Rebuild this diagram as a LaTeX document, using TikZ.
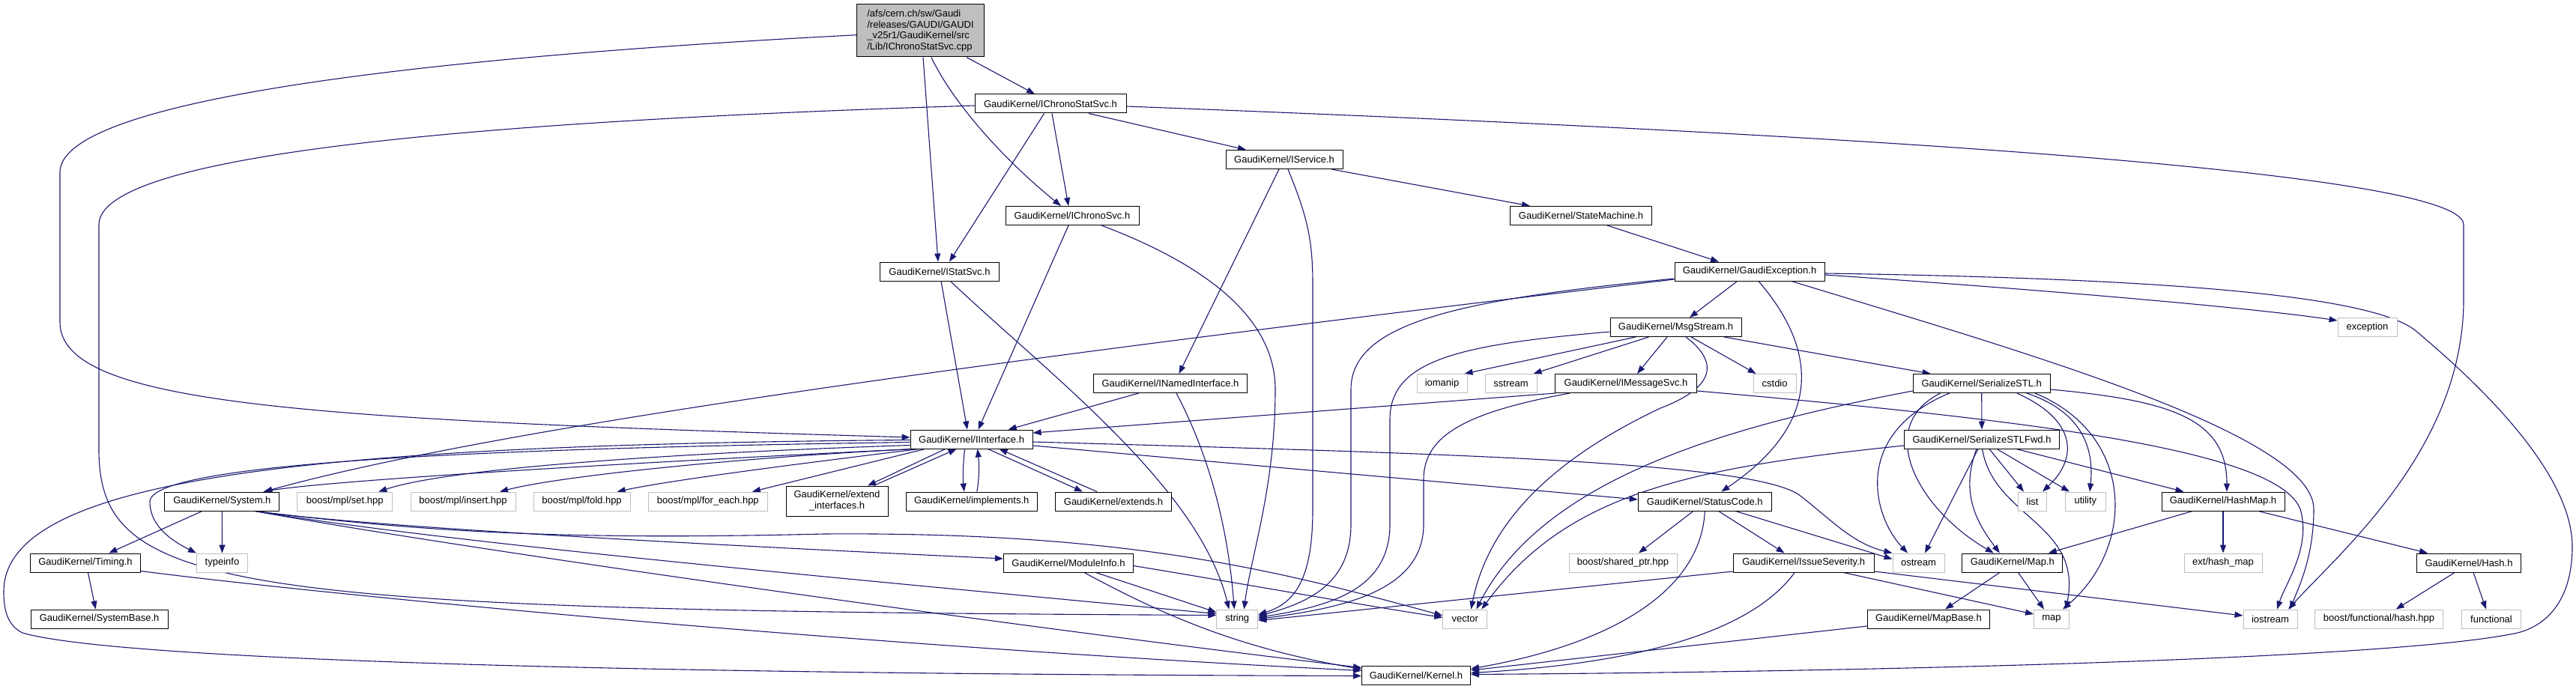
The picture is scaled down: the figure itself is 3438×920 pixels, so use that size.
\documentclass[tikz,border=0pt]{standalone}
\usepackage{fontspec}
\setmainfont{Liberation Sans}
\usetikzlibrary{arrows.meta}
\pgfdeclarelayer{background}
\pgfsetlayers{background,main}
\definecolor{edgec}{HTML}{191970}
\definecolor{extc}{HTML}{BFBFBF}
\definecolor{rootfill}{HTML}{BFBFBF}
\newcommand\gklabel{\fontsize{13}{14.7}\selectfont}
\begin{document}
\begin{tikzpicture}[x=1pt,y=-1pt,
  e/.style={draw=edgec, line width=1.1pt, -{Triangle[length=11pt,width=8pt]}},
  box/.style={fill=white, line width=1pt, minimum height=25pt, inner sep=0pt, font=\gklabel, anchor=center},
  doc/.style={box, draw=black},
  ext/.style={box, draw=extc},
  rootn/.style={box, draw=black, fill=rootfill, minimum height=70pt, align=left}]
\useasboundingbox (0,0) rectangle (3438,920);
% nodes
\node[rootn, minimum width=170] (root) at (1228.5,41) {/afs/cern.ch/sw/Gaudi\\/releases/GAUDI/GAUDI\\\_v25r1/GaudiKernel/src\\/Lib/IChronoStatSvc.cpp};
\node[doc, minimum width=202] (icss) at (1402,138.5) {GaudiKernel/IChronoStatSvc.h};
\node[doc, minimum width=178] (ics) at (1431,288) {GaudiKernel/IChronoSvc.h};
\node[doc, minimum width=159] (iss) at (1254,362.5) {GaudiKernel/IStatSvc.h};
\node[doc, minimum width=156] (isvc) at (1714,213) {GaudiKernel/IService.h};
\node[doc, minimum width=189] (sm) at (2110,288) {GaudiKernel/StateMachine.h};
\node[doc, minimum width=200] (ge) at (2335,362.5) {GaudiKernel/GaudiException.h};
\node[doc, minimum width=175] (ms) at (2236.5,437) {GaudiKernel/MsgStream.h};
\node[ext, minimum width=79] (exc) at (3159.5,437) {exception};
\node[doc, minimum width=205] (inamed) at (1562,512) {GaudiKernel/INamedInterface.h};
\node[ext, minimum width=67] (iom) at (1924.5,512) {iomanip};
\node[ext, minimum width=69] (sst) at (2016.5,512) {sstream};
\node[doc, minimum width=189] (imsg) at (2170,512) {GaudiKernel/IMessageSvc.h};
\node[ext, minimum width=57] (cstdio) at (2368.6,512) {cstdio};
\node[doc, minimum width=183] (ser) at (2644.7,512) {GaudiKernel/SerializeSTL.h};
\node[doc, minimum width=163] (ii) at (1296.6,586.5) {GaudiKernel/IInterface.h};
\node[doc, minimum width=207] (serfwd) at (2645,586.5) {GaudiKernel/SerializeSTLFwd.h};
\node[doc, minimum width=153] (sys) at (296.4,669.5) {GaudiKernel/System.h};
\node[ext, minimum width=127] (set) at (460.3,669.5) {boost/mpl/set.hpp};
\node[ext, minimum width=140] (ins) at (618,669.5) {boost/mpl/insert.hpp};
\node[ext, minimum width=129] (fold) at (776.6,669.5) {boost/mpl/fold.hpp};
\node[ext, minimum width=159] (fe) at (944.8,669.5) {boost/mpl/for\_each.hpp};
\node[doc, minimum width=136, minimum height=40, align=center, font=\fontsize{13}{15}\selectfont] (extif) at (1117,669) {GaudiKernel/extend\\\_interfaces.h};
\node[doc, minimum width=175] (impl) at (1296.8,669.5) {GaudiKernel/implements.h};
\node[doc, minimum width=155] (extends) at (1486,669.5) {GaudiKernel/extends.h};
\node[doc, minimum width=178] (sc) at (2275.3,669.5) {GaudiKernel/StatusCode.h};
\node[ext, minimum width=38] (list) at (2712.6,669.5) {list};
\node[ext, minimum width=54] (util) at (2783.4,669.5) {utility};
\node[doc, minimum width=164] (hm) at (2967,669.5) {GaudiKernel/HashMap.h};
\node[doc, minimum width=147] (timing) at (114,751.5) {GaudiKernel/Timing.h};
\node[ext, minimum width=68] (typeinfo) at (296.5,751.5) {typeinfo};
\node[doc, minimum width=173] (mod) at (1426,751.5) {GaudiKernel/ModuleInfo.h};
\node[ext, minimum width=144] (shp) at (2166,751.5) {boost/shared\_ptr.hpp};
\node[doc, minimum width=188] (is) at (2407.2,751.5) {GaudiKernel/IssueSeverity.h};
\node[ext, minimum width=69] (ost) at (2560.5,751.5) {ostream};
\node[doc, minimum width=134] (maph) at (2685.8,751.5) {GaudiKernel/Map.h};
\node[ext, minimum width=104] (ehm) at (2967,751.5) {ext/hash\_map};
\node[doc, minimum width=138.5] (hash) at (3295,751.5) {GaudiKernel/Hash.h};
\node[doc, minimum width=183] (sb) at (132.6,826.5) {GaudiKernel/SystemBase.h};
\node[ext, minimum width=55] (str) at (1651.3,826.5) {string};
\node[ext, minimum width=59] (vec) at (1955.3,826.5) {vector};
\node[doc, minimum width=163] (mb) at (2574,826.5) {GaudiKernel/MapBase.h};
\node[ext, minimum width=47] (map) at (2738,826.5) {map};
\node[ext, minimum width=72] (ios) at (3030,826.5) {iostream};
\node[ext, minimum width=171] (bfh) at (3175,826.5) {boost/functional/hash.hpp};
\node[ext, minimum width=79.5] (func) at (3325,826.5) {functional};
\node[doc, minimum width=145] (kernel) at (1890,901.5) {GaudiKernel/Kernel.h};
\begin{pgfonlayer}{background}
% edges: root
\draw[e] ([xshift=61.5]root.south) -- ([xshift=-21]icss.north);
\draw[e] ([xshift=14.5]root.south) .. controls (1268,130) and (1330,205) .. ([xshift=-15]ics.north);
\draw[e] ([xshift=3.5]root.south) -- ([xshift=-2]iss.north);
\draw[e] ([yshift=-5.7]root.west) .. controls (500,80) and (80,140) .. (80,230) -- (80,430) .. controls (80,540) and (400,560) .. ([yshift=2.5]ii.west);
% IChronoStatSvc.h
\draw[e] ([xshift=-8.4]icss.south) -- ([xshift=13]iss.north);
\draw[e] ([xshift=2]icss.south) -- ([xshift=-5]ics.north);
\draw[e] ([xshift=51]icss.south) -- ([xshift=-51]isvc.north);
\draw[e] ([yshift=-2.5]icss.west) .. controls (700,160) and (132,200) .. (132,300) -- (132,600) .. controls (132,790) and (300,815) .. ([yshift=5]str.west);
\draw[e] ([yshift=-3.5]icss.east) .. controls (2500,180) and (3288,230) .. (3288,300) -- (3288,400) .. controls (3288,600) and (3120,740) .. ([xshift=24]ios.north);
% IChronoSvc.h
\draw[e] ([xshift=-5]ics.south) -- ([xshift=9]ii.north);
\draw[e] ([xshift=39]ics.south) .. controls (1600,350) and (1702,420) .. (1702,520) .. controls (1702,650) and (1670,740) .. ([xshift=9]str.north);
% IStatSvc.h
\draw[e] ([xshift=2]iss.south) -- ([xshift=-5.6]ii.north);
\draw[e] ([xshift=14.5]iss.south) .. controls (1400,500) and (1600,650) .. ([xshift=-11]str.north);
% IService.h
\draw[e] ([xshift=-7]isvc.south) -- ([xshift=11.5]inamed.north);
\draw[e] ([xshift=5]isvc.south) .. controls (1745,290) and (1752,320) .. (1752,380) -- (1752,680) .. controls (1752,770) and (1730,805) .. ([yshift=6]str.east);
\draw[e] ([xshift=63]isvc.south) -- ([xshift=-68]sm.north);
% StateMachine.h
\draw[e] ([xshift=35]sm.south) -- ([xshift=-41]ge.north);
% GaudiException.h
\draw[e] ([xshift=-16.5]ge.south) -- ([xshift=18.5]ms.north);
\draw[e] ([yshift=-9.5]ge.west) .. controls (1950,400) and (1803,430) .. (1803,520) -- (1803,700) .. controls (1803,780) and (1745,805) .. ([yshift=4]str.east);
\draw[e] ([yshift=-10.5]ge.west) .. controls (1500,460) and (700,560) .. ([xshift=56]sys.north);
\draw[e] ([xshift=12]ge.south) .. controls (2420,460) and (2440,560) .. ([xshift=22]sc.north);
\draw[e] ([xshift=56]ge.south) .. controls (2700,470) and (3088,580) .. (3088,680) .. controls (3088,740) and (3070,780) .. ([xshift=26]ios.north);
\draw[e] ([yshift=-4.5]ge.east) .. controls (2700,385) and (3000,410) .. ([yshift=9]exc.west);
\draw[e] ([yshift=-2.5]ge.east) .. controls (2900,372) and (3160,395) .. (3222,440) .. controls (3330,530) and (3433,640) .. (3433,730) .. controls (3433,800) and (3400,835) .. (3360,845) .. controls (3200,880) and (2500,897) .. ([yshift=1]kernel.east);
% MsgStream.h
\draw[e] ([xshift=-53.5]ms.south) -- ([xshift=30]iom.north);
\draw[e] ([xshift=-36]ms.south) -- ([xshift=30]sst.north);
\draw[e] ([xshift=-11.5]ms.south) -- ([xshift=15]imsg.north);
\draw[e] ([xshift=13.5]ms.south) .. controls (2290,480) and (2295,515) .. (2216,545) .. controls (2100,600) and (1990,680) .. ([xshift=8]vec.north);
\draw[e] ([xshift=20.5]ms.south) -- ([xshift=-25]cstdio.north);
\draw[e] ([xshift=64.5]ms.south) -- ([xshift=-68]ser.north);
\draw[e] ([yshift=-6]ms.west) .. controls (1950,460) and (1855,480) .. (1855,560) -- (1855,700) .. controls (1855,790) and (1770,810) .. ([yshift=2]str.east);
% IMessageSvc.h
\draw[e] ([xshift=-94]imsg.south) -- ([yshift=8.5]ii.east);
\draw[e] ([xshift=-75]imsg.south) .. controls (1960,550) and (1900,580) .. (1900,640) -- (1900,700) .. controls (1900,790) and (1790,812) .. ([yshift=0]str.east);
\draw[e] ([yshift=-10]imsg.east) .. controls (2700,560) and (3040,600) .. (3070,680) .. controls (3085,730) and (3050,780) .. ([xshift=9]ios.north);
% INamedInterface.h
\draw[e] ([xshift=-42]inamed.south) -- ([xshift=49]ii.north);
\draw[e] ([xshift=8]inamed.south) .. controls (1620,620) and (1640,720) .. ([xshift=-4]str.north);
% IInterface.h
\draw[e] ([xshift=-78]ii.south) .. controls (900,615) and (450,640) .. ([xshift=55]sys.north);
\draw[e] ([yshift=-4]ii.west) .. controls (700,598) and (200,615) .. (200,670) .. controls (200,700) and (225,720) .. (typeinfo.north west);
\draw[e] ([yshift=-1]ii.west) .. controls (400,594) and (5,640) .. (5,790) .. controls (5,815) and (10,835) .. (30,845) .. controls (150,880) and (800,900) .. ([yshift=-1]kernel.west);
\draw[e] ([yshift=-8]ii.west) .. controls (900,605) and (600,625) .. ([xshift=45]set.north);
\draw[e] ([xshift=-76]ii.south) .. controls (1000,610) and (750,635) .. ([xshift=49]ins.north);
\draw[e] ([xshift=-70]ii.south) .. controls (1100,615) and (900,640) .. ([xshift=47]fold.north);
\draw[e] ([xshift=-62]ii.south) -- ([xshift=59]fe.north);
\draw[e] ([xshift=-35]ii.south) -- ([xshift=41]extif.north);
\draw[e] ([xshift=49]extif.north) -- ([xshift=-20]ii.south);
\draw[e] ([xshift=-9]ii.south) .. controls (1285,620) and (1285,640) .. ([xshift=-10]impl.north);
\draw[e] ([xshift=7]impl.north) .. controls (1307,640) and (1307,620) .. ([xshift=8]ii.south);
\draw[e] ([xshift=22]ii.south) -- ([xshift=-41]extends.north);
\draw[e] ([xshift=-22]extends.north) -- ([xshift=37]ii.south);
\draw[e] ([yshift=-8.5]ii.east) -- ([yshift=2.5]sc.west);
\draw[e] ([yshift=-3.5]ii.east) .. controls (1900,605) and (2330,615) .. (2400,660) .. controls (2440,690) and (2470,725) .. (ost.north west);
% System.h
\draw[e] ([xshift=-26.6]sys.south) -- ([xshift=31.4]timing.north);
\draw[e] (sys.south) -- (typeinfo.north);
\draw[e] ([xshift=44]sys.south) .. controls (600,715) and (800,720) .. (1100,713) .. controls (1500,710) and (1700,760) .. ([yshift=4.5]vec.west);
\draw[e] ([xshift=44]sys.south) .. controls (500,705) and (1000,730) .. ([yshift=5.5]mod.west);
\draw[e] ([xshift=44]sys.south) .. controls (600,725) and (1100,770) .. ([yshift=7]str.west);
\draw[e] ([xshift=44]sys.south) .. controls (600,730) and (1300,830) .. ([yshift=10]kernel.west);
% Timing.h
\draw[e] ([xshift=3.5]timing.south) -- ([xshift=-5]sb.north);
\draw[e] ([yshift=-11]timing.east) .. controls (400,790) and (1100,860) .. ([yshift=6]kernel.west);
% ModuleInfo.h
\draw[e] ([xshift=36.5]mod.south) -- ([yshift=9]str.west);
\draw[e] ([yshift=-4]mod.east) .. controls (1650,778) and (1800,805) .. ([yshift=2]vec.west);
\draw[e] ([xshift=21]mod.south) .. controls (1550,820) and (1650,865) .. ([yshift=8]kernel.west);
% StatusCode.h
\draw[e] ([xshift=-15.5]sc.south) -- ([xshift=21]shp.north);
\draw[e] (sc.south) .. controls (2270,790) and (2150,860) .. ([yshift=8.5]kernel.east);
\draw[e] ([xshift=18.3]sc.south) -- ([xshift=-25.6]is.north);
\draw[e] ([xshift=41]sc.south) -- ([yshift=5]ost.west);
% IssueSeverity.h
\draw[e] ([yshift=-11.5]is.west) -- ([yshift=-2]str.east);
\draw[e] ([xshift=-12]is.south) .. controls (2340,840) and (2200,885) .. ([yshift=3]kernel.east);
\draw[e] ([xshift=53]is.south) -- ([yshift=6.5]map.west);
\draw[e] ([yshift=-11.5]is.east) -- ([yshift=4.5]ios.west);
% SerializeSTL.h
\draw[e] (ser.south) -- (serfwd.north);
\draw[e] ([xshift=-43]ser.south) .. controls (2470,580) and (2500,690) .. ([xshift=-14.5]ost.north);
\draw[e] ([xshift=-55]ser.south) .. controls (2500,570) and (2560,680) .. ([xshift=-25]maph.north);
\draw[e] ([xshift=47]ser.south) .. controls (2770,560) and (2775,610) .. ([xshift=13.4]list.north);
\draw[e] ([xshift=60]ser.south) .. controls (2780,550) and (2795,600) .. ([xshift=5.6]util.north);
\draw[e] ([xshift=71]ser.south) .. controls (2850,580) and (2850,730) .. ([xshift=15]map.north);
\draw[e] ([yshift=-8]ser.east) .. controls (2900,535) and (2972,560) .. ([xshift=5]hm.north);
\draw[e] ([yshift=-10]ser.west) .. controls (2300,570) and (2060,640) .. ([xshift=15]vec.north);
% SerializeSTLFwd.h
\draw[e] ([yshift=-8.5]serfwd.west) .. controls (2250,625) and (2090,660) .. ([xshift=22]vec.north);
\draw[e] ([xshift=-5]serfwd.south) -- ([xshift=8.5]ost.north);
\draw[e] ([xshift=-7]serfwd.south) .. controls (2615,660) and (2640,700) .. ([xshift=-17]maph.north);
\draw[e] ([xshift=0.6]serfwd.south) .. controls (2660,690) and (2780,700) .. ([xshift=19]map.north);
\draw[e] ([xshift=10]serfwd.south) -- ([xshift=-11.6]list.north);
\draw[e] ([xshift=20]serfwd.south) -- ([xshift=-21.4]util.north);
\draw[e] ([xshift=46]serfwd.south) -- ([xshift=-52.5]hm.north);
% Map.h
\draw[e] ([xshift=-17]maph.south) -- ([xshift=22]mb.north);
\draw[e] ([xshift=7.7]maph.south) -- ([xshift=-10]map.north);
% MapBase.h
\draw[e] ([yshift=-9.5]mb.west) -- ([yshift=6.5]kernel.east);
% HashMap.h
\draw[e] ([xshift=-41]hm.south) -- ([xshift=48]maph.north);
\draw[e] (hm.south) -- (ehm.north);
\draw[e] ([xshift=47]hm.south) -- ([xshift=-55]hash.north);
% Hash.h
\draw[e] ([xshift=-19]hash.south) -- ([xshift=22.7]bfh.north);
\draw[e] ([xshift=6]hash.south) -- ([xshift=-7]func.north);
\end{pgfonlayer}
\end{tikzpicture}
\end{document}
